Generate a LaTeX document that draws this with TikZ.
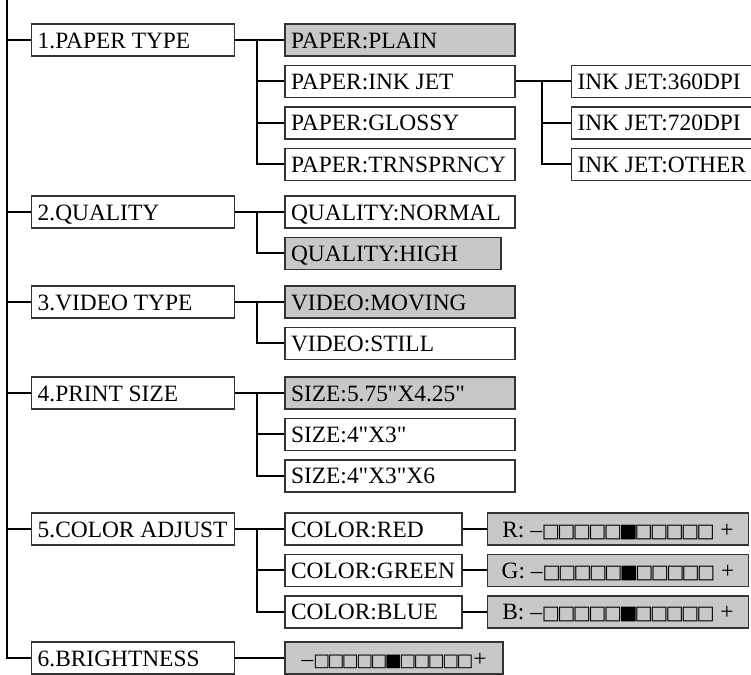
\documentclass[tikz,border=0pt]{standalone}
\usepackage{fontspec}
\setmainfont{Liberation Serif}[Ligatures=TeXOff]
\newfontfamily\glyphfont{DejaVu Sans}[LetterSpace=-14]
\usetikzlibrary{positioning}
\definecolor{selgray}{HTML}{C8C8C8}
\definecolor{edge}{HTML}{333333}
\tikzset{boxbase/.style={draw=edge,line width=0.7pt,inner xsep=3pt,inner ysep=0pt,
  text height=12pt,text depth=4pt,font=\fontsize{11.7pt}{14pt}\selectfont},
  menu/.style={boxbase,fill=white,
  execute at begin node={\hbox to #1\bgroup},execute at end node={\hfil\egroup}},
  menu/.default=109pt,
  pick/.style={menu=#1,fill=selgray},
  pick/.default=109pt,
  bar/.style={boxbase,fill=selgray,
  execute at begin node={\hbox to #1\bgroup\hfil},execute at end node={\hfil\egroup}},
  topbox/.style={menu=95.5pt,anchor=west},
  under/.style={below=4pt of #1.south west,anchor=north west},
  wire/.style={line width=1pt,draw=black}}
\newcommand\levelbar[1]{{\glyphfont\fontsize{#1}{#1}\selectfont □□□□□■□□□□□}}

\begin{document}
\begin{tikzpicture}[x=0.5pt,y=-0.5pt]
\useasboundingbox (0,0) rectangle (751,675);
% main menu
\node[topbox] (t1) at (31,40) {1.PAPER TYPE};
\node[topbox] (t2) at (31,212) {2.QUALITY};
\node[topbox] (t3) at (31,302) {3.VIDEO TYPE};
\node[topbox] (t4) at (31,393) {4.PRINT SIZE};
\node[topbox] (t5) at (31,529) {5.COLOR ADJUST};
\node[topbox] (t6) at (31,658) {6.BRIGHTNESS};
% paper
\node[pick,right=24.5pt of t1] (paper1) {PAPER:PLAIN};
\node[menu,under=paper1] (paper2) {PAPER:INK JET};
\node[menu,under=paper2] (paper3) {PAPER:GLOSSY};
\node[menu,under=paper3] (paper4) {PAPER:TRNSPRNCY};
\node[menu=85pt,right=27.5pt of paper2] (ink1) {INK JET:360DPI};
\node[menu=85pt,under=ink1] (ink2) {INK JET:720DPI};
\node[menu=85pt,under=ink2] (ink3) {INK JET:OTHER};
% quality, video, size
\node[menu,right=24.5pt of t2] (qual1) {QUALITY:NORMAL};
\node[pick=102pt,under=qual1] (qual2) {QUALITY:HIGH};
\node[pick,right=24.5pt of t3] (vid1) {VIDEO:MOVING};
\node[menu,under=vid1] (vid2) {VIDEO:STILL};
\node[pick,right=24.5pt of t4] (size1) {SIZE:5.75"X4.25"};
\node[menu,under=size1] (size2) {SIZE:4"X3"};
\node[menu,under=size2] (size3) {SIZE:4"X3"X6};
% color and brightness
\node[menu=82.5pt,right=24.5pt of t5] (col1) {COLOR:RED};
\node[menu=82.5pt,under=col1] (col2) {COLOR:GREEN};
\node[menu=82.5pt,under=col2] (col3) {COLOR:BLUE};
\node[bar=124.5pt,right=12pt of col1] (adj1) {R: –\levelbar{9.6pt}\ +};
\node[bar=124.5pt,right=12pt of col2] (adj2) {G: –\levelbar{9.6pt}\ +};
\node[bar=124.5pt,right=12pt of col3] (adj3) {B: –\levelbar{9.6pt}\ +};
\node[bar=103pt,right=24.5pt of t6] (bright) {–\levelbar{8.9pt}+};
% connectors
\coordinate (spine) at (7,0);
\foreach \i in {1,...,6} \draw[wire] (spine) |- (t\i.west);
\coordinate (fork1) at ([xshift=11pt]t1.east);
\coordinate (fork2) at ([xshift=11pt]t2.east);
\coordinate (fork3) at ([xshift=11pt]t3.east);
\coordinate (fork4) at ([xshift=11pt]t4.east);
\coordinate (fork5) at ([xshift=11pt]t5.east);
\coordinate (forkink) at ([xshift=13pt]paper2.east);
\draw[wire] (t1)--(paper1);\draw[wire] (t2)--(qual1);\draw[wire] (t3)--(vid1);
\draw[wire] (t4)--(size1);\draw[wire] (t5)--(col1);\draw[wire] (t6)--(bright);
\draw[wire] (paper2)--(ink1);
\foreach \c in {paper2,paper3,paper4} \draw[wire] (fork1) |- (\c.west);
\draw[wire] (fork2) |- (qual2.west);
\draw[wire] (fork3) |- (vid2.west);
\foreach \c in {size2,size3} \draw[wire] (fork4) |- (\c.west);
\foreach \c in {col2,col3} \draw[wire] (fork5) |- (\c.west);
\foreach \c in {ink2,ink3} \draw[wire] (forkink) |- (\c.west);
\draw[wire] (col1)--(adj1);\draw[wire] (col2)--(adj2);\draw[wire] (col3)--(adj3);
\end{tikzpicture}
\end{document}
